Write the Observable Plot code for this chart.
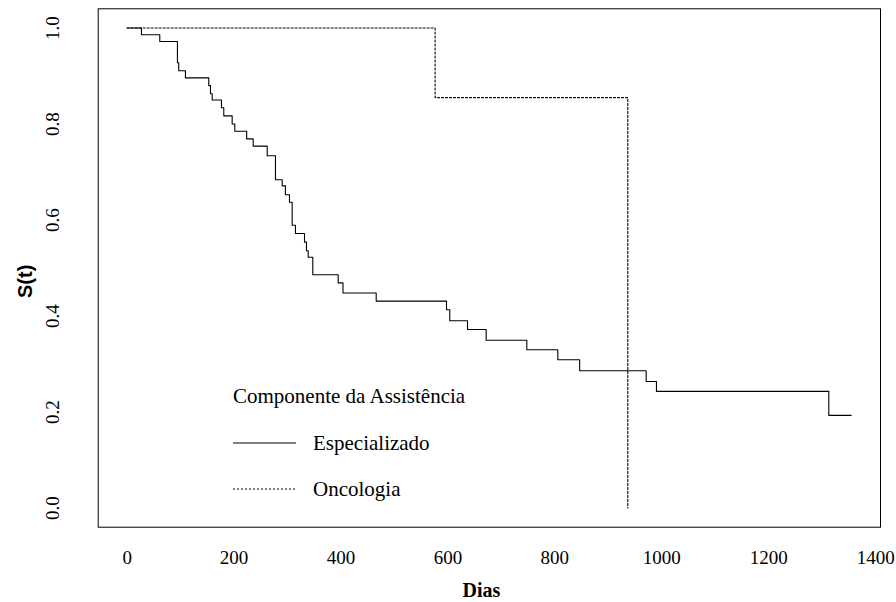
<!DOCTYPE html>
<html><head><meta charset="utf-8">
<script src="https://cdn.jsdelivr.net/npm/d3@7"></script>
<script src="https://cdn.jsdelivr.net/npm/@observablehq/plot@0.6"></script>
<style>
body{margin:0;background:#fff;}
#wrap{position:relative;width:896px;height:602px;}
#legend{position:absolute;left:0;top:0;pointer-events:none;}
</style></head><body><div id="wrap"></div>
<script>
const seriesNames = ["Especializado", "Oncologia"];
const legendTitle = "Componente da Assistência";
const espTimes = [0, 26.7, 61, 94, 96.5, 109, 152.6, 155.8, 159, 176.4, 180.7, 196.4, 201.3, 223.5, 235.7, 261.9, 277.4, 290, 296, 303.6, 308.6, 314.8, 331.7, 335.4, 338.6, 347.2, 394.7, 403.7, 465.8, 597.3, 603.4, 636.6, 671.5, 747.5, 805.5, 846.4, 970.8, 990, 1312.4, 1354.3];
const espSurv = [1, 0.986, 0.972, 0.9275, 0.911, 0.896, 0.880, 0.863, 0.850, 0.834, 0.817, 0.800, 0.785, 0.769, 0.754, 0.734, 0.684, 0.671, 0.6525, 0.637, 0.589, 0.572, 0.554, 0.536, 0.5225, 0.486, 0.469, 0.448, 0.431, 0.413, 0.390, 0.372, 0.3496, 0.3296, 0.309, 0.286, 0.2635, 0.243, 0.193, 0.193];
const oncTimes = [0, 576, 936.4];
const oncSurv = [1, 0.855, 0];
const xTicks = [0, 200, 400, 600, 800, 1000, 1200, 1400];
const yTicks = [0, 0.2, 0.4, 0.6, 0.8, 1.0];
const xLabel = "Dias";
const yLabel = "S(t)";

const esp = espTimes.map((t, i) => ({t, s: espSurv[i], g: seriesNames[0]}));
const onc = oncTimes.map((t, i) => ({t, s: oncSurv[i], g: seriesNames[1]}));

const plot = Plot.plot({
  width: 896, height: 602,
  marginLeft: 97.7, marginRight: 16, marginTop: 8.3, marginBottom: 75.3,
  style: {fontFamily: "Liberation Serif", fontSize: "19px", background: "#fff", color: "#000", overflow: "visible"},
  x: {domain: [-54.2, 1409.1]},
  y: {domain: [-0.04, 1.04]},
  marks: [
    Plot.frame({stroke: "#000", strokeWidth: 1}),
    Plot.axisX({ticks: xTicks, tickSize: 0, tickPadding: 31, lineAnchor: "middle", fontSize: 19, tickFormat: d3.format("d"), label: null}),
    Plot.axisY({ticks: yTicks, tickSize: 0, tickPadding: 45, tickRotate: -90, textAnchor: "middle", lineAnchor: "middle", fontSize: 19, tickFormat: d3.format(".1f"), label: null}),
    Plot.line(esp, {x: "t", y: "s", curve: "step-after", stroke: "#000", strokeWidth: 1.1}),
    Plot.line(onc, {x: "t", y: "s", curve: "step-after", stroke: "#000", strokeWidth: 1.1, strokeDasharray: "2,2"}),
    Plot.text([xLabel], {text: d => d, frameAnchor: "bottom", dy: 63, dx: -8, fontWeight: "bold", fontSize: 20, lineAnchor: "middle"}),
    Plot.text([yLabel], {text: d => d, frameAnchor: "left", dx: -73, dy: 30, rotate: -90, fontFamily: "Liberation Sans", fontWeight: "bold", fontSize: 20, lineAnchor: "middle"})
  ]
});
const wrap = document.getElementById("wrap");
wrap.appendChild(plot);

// legend overlay
const ns = "http://www.w3.org/2000/svg";
const lg = document.createElementNS(ns, "svg");
lg.setAttribute("id", "legend");
lg.setAttribute("width", 896);
lg.setAttribute("height", 602);
lg.style.fontFamily = "Liberation Serif";
lg.style.fontSize = "21px";
function addText(x, y, s) {
  const t = document.createElementNS(ns, "text");
  t.setAttribute("x", x); t.setAttribute("y", y);
  t.setAttribute("dominant-baseline", "central");
  t.setAttribute("fill", "#000");
  t.textContent = s;
  lg.appendChild(t);
}
function addLine(y, dash) {
  const l = document.createElementNS(ns, "line");
  l.setAttribute("x1", 233); l.setAttribute("x2", 296);
  l.setAttribute("y1", y); l.setAttribute("y2", y);
  l.setAttribute("stroke", "#000"); l.setAttribute("stroke-width", 1.1);
  if (dash) l.setAttribute("stroke-dasharray", dash);
  lg.appendChild(l);
}
addText(233, 396, legendTitle);
addLine(443, null);
addText(313, 443, seriesNames[0]);
addLine(489, "2,2");
addText(313, 489, seriesNames[1]);
wrap.appendChild(lg);
</script></body></html>
